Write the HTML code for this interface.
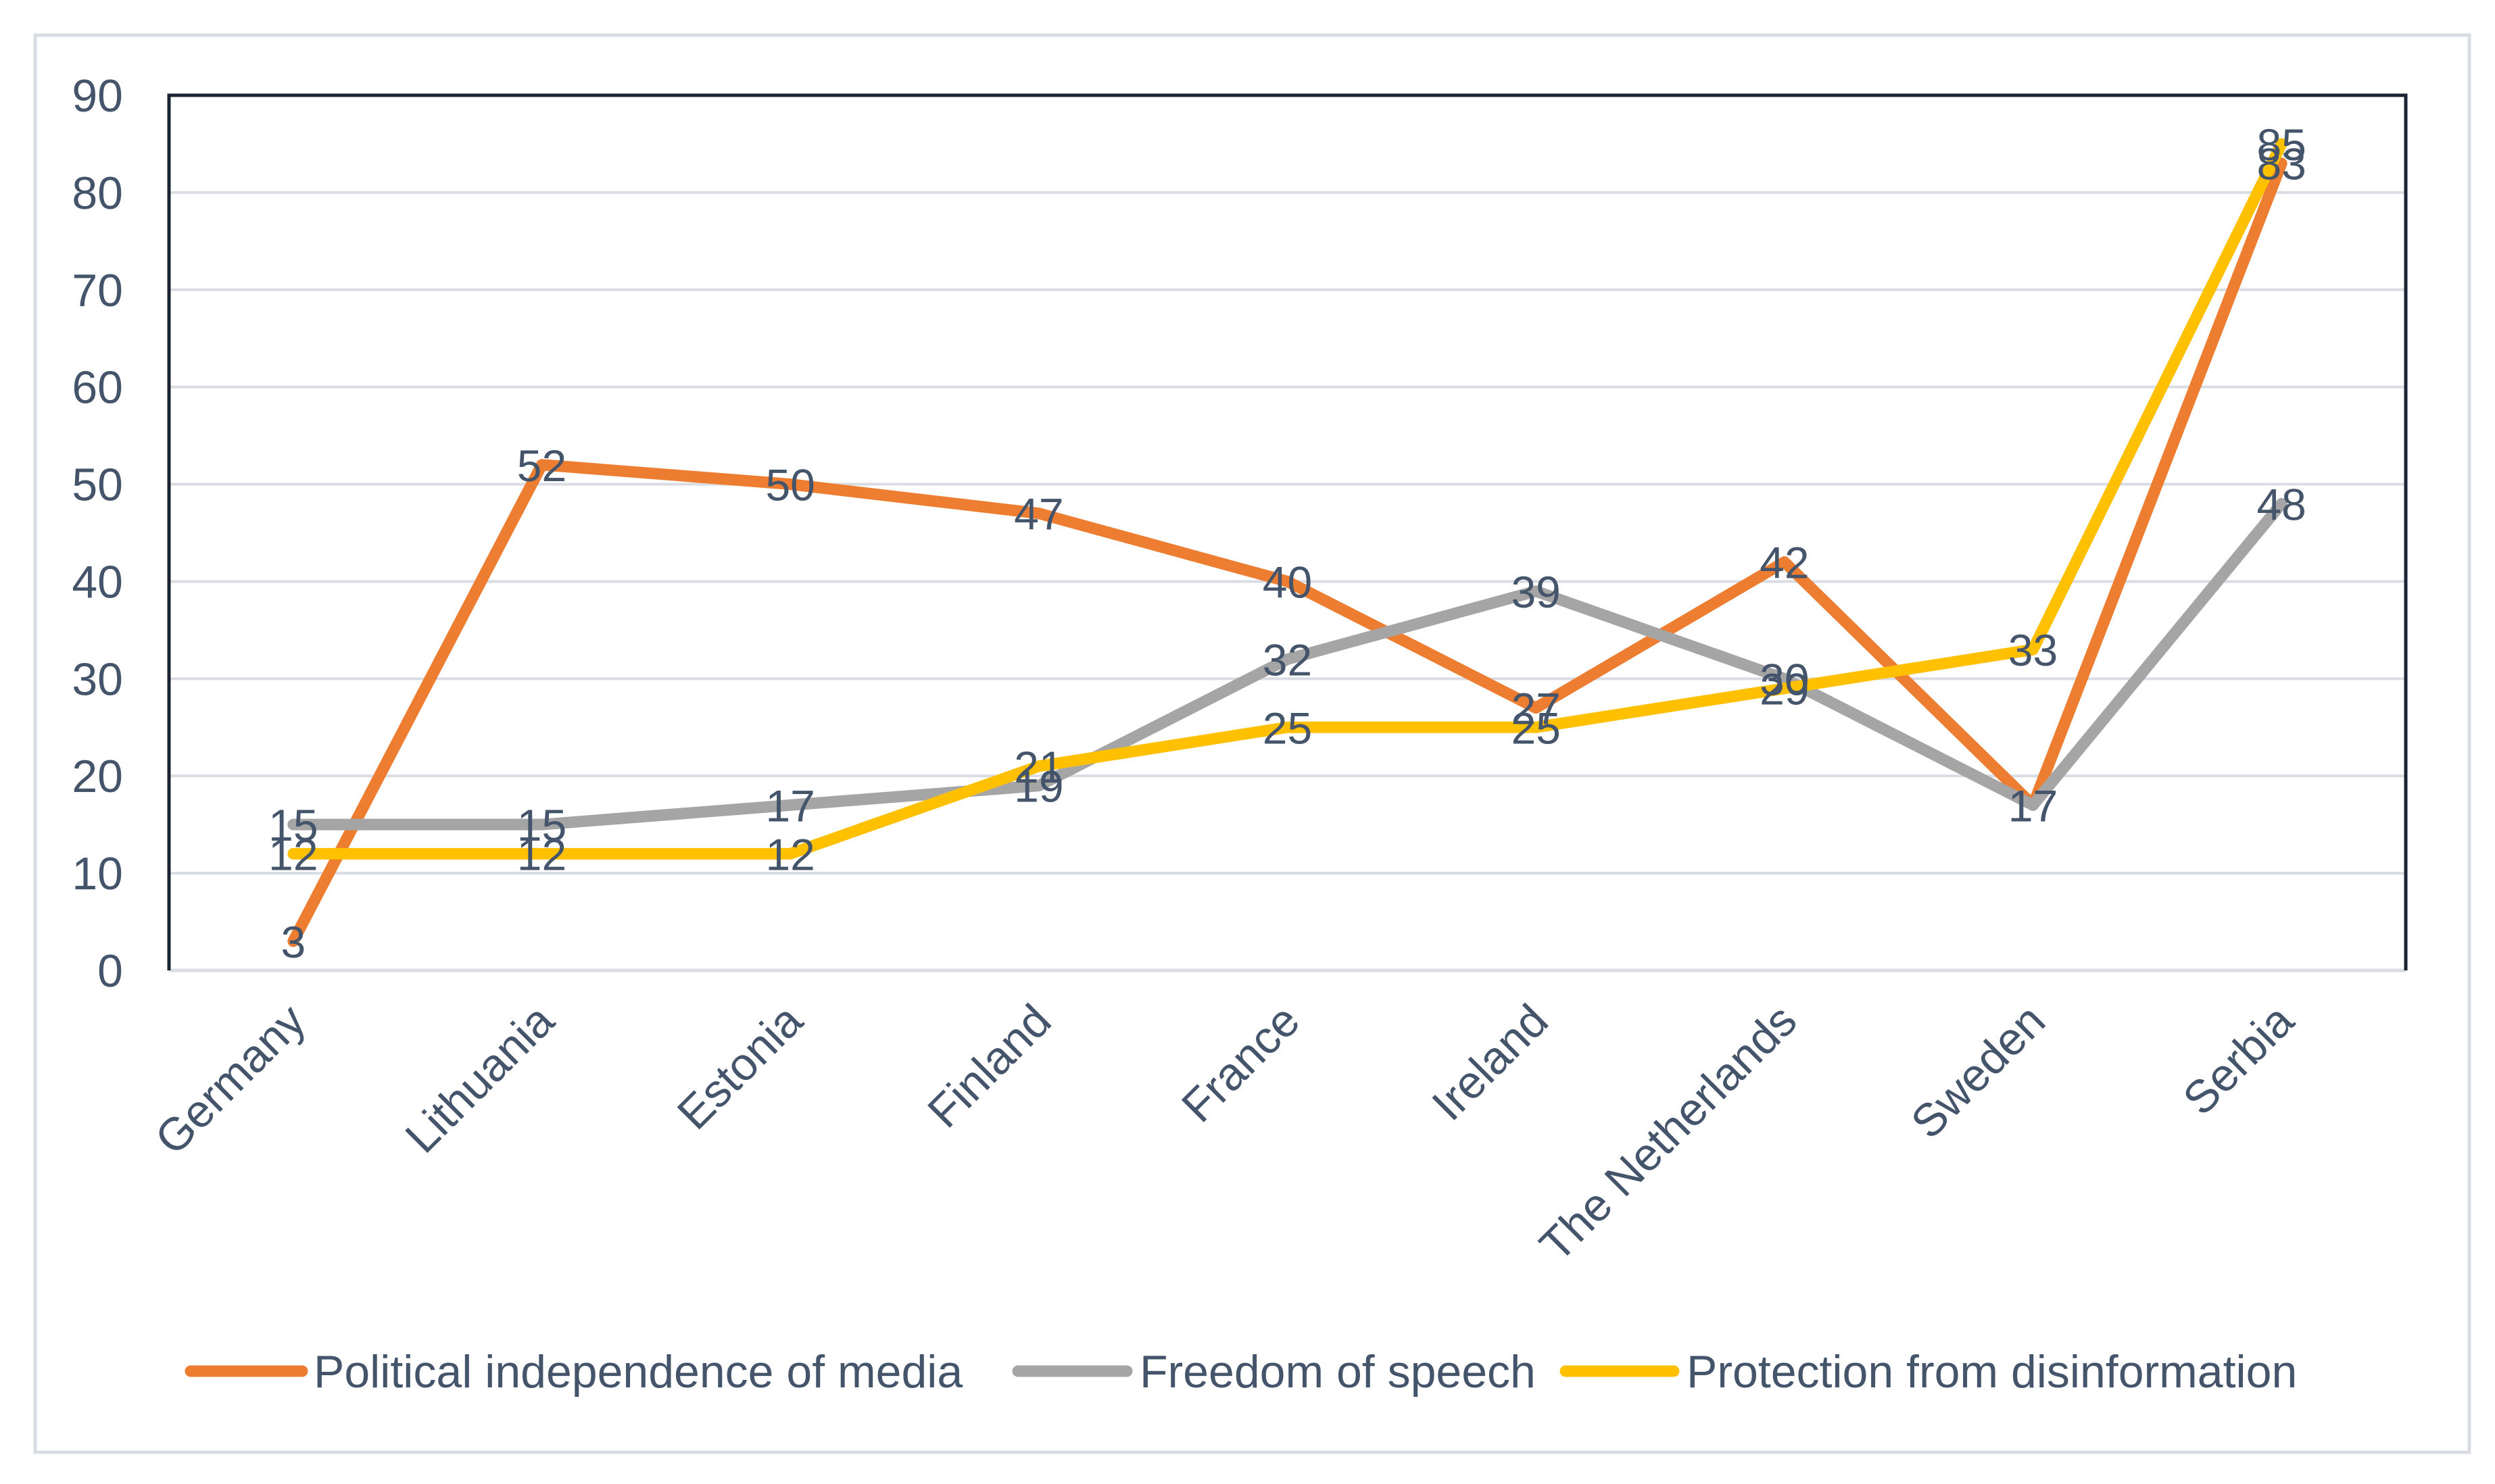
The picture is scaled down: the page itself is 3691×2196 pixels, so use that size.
<!DOCTYPE html>
<html><head><meta charset="utf-8"><style>
html,body{margin:0;padding:0;background:#fff;}
svg{display:block;}
text{font-family:"Liberation Sans",sans-serif;fill:#44546A;}
</style></head><body>
<svg id="chart" width="3691" height="2196" viewBox="0 0 3691 2196">
<rect x="52" y="52" width="3601" height="2097" fill="#fff" stroke="#D9DDE3" stroke-width="5"/>
<g id="grid"></g>
<g id="lines"></g>
<g id="labels"></g>
<g id="xlabels"></g>
<g id="legend"></g>
</svg>
<script>
const categories=["Germany","Lithuania","Estonia","Finland","France","Ireland","The Netherlands","Sweden","Serbia"];
const politicalValues=[3,52,50,47,40,27,42,17,83];
const speechValues=[15,15,17,19,32,39,30,17,48];
const disinfoValues=[12,12,12,21,25,25,29,33,85];
const yTicks=[0,10,20,30,40,50,60,70,80,90];
const seriesNames=["Political independence of media","Freedom of speech","Protection from disinformation"];

const NS="http://www.w3.org/2000/svg";
const L=250,R=3559,T=141,B=1436,yMax=90;
function xPos(i){return L+(R-L)/categories.length*(i+0.5);}
function yPos(v){return B-(B-T)*v/yMax;}
function mk(tag,attrs,parent){const e=document.createElementNS(NS,tag);for(const k in attrs)e.setAttribute(k,attrs[k]);parent.appendChild(e);return e;}

const grid=document.getElementById('grid');
yTicks.forEach(t=>{
  const y=yPos(t);
  if(t>0&&t<yMax){const g=mk('line',{x1:L,x2:R,y1:y,y2:y,stroke:'#D9DDE3','stroke-width':4},grid);
  
  }
  const tx=mk('text',{x:182,y:y+24,'text-anchor':'end','font-size':68},grid);
  tx.textContent=t;
  
  
});
const base=mk('line',{x1:L,x2:R,y1:B,y2:B,stroke:'#D9DDE3',"stroke-width":5},grid);


const box=mk('path',{d:`M${L},${B} L${L},${T} L${R},${T} L${R},${B}`,fill:'none',stroke:'#1B2433','stroke-width':5},grid);



const series=[[politicalValues,'#ED7D31','political-independence'],[speechValues,'#A5A5A5','freedom-of-speech'],[disinfoValues,'#FFC000','protection-from-disinformation']];
const lines=document.getElementById('lines'),labels=document.getElementById('labels');
series.forEach(([vals,col,nm])=>{
  const d=vals.map((v,i)=>(i?'L':'M')+xPos(i)+','+yPos(v)).join(' ');
  const p=mk('path',{d:d,fill:'none',stroke:col,'stroke-width':17,'stroke-linejoin':'round','stroke-linecap':'round'},lines);
  
  
});
series.forEach(([vals,col,nm])=>{
  vals.forEach((v,i)=>{
    const t=mk('text',{x:xPos(i),y:yPos(v)+24,'text-anchor':'middle','font-size':66},labels);
    t.textContent=v;
    
    
  });
});
const xl=document.getElementById('xlabels');
categories.forEach((c,i)=>{
  const x=xPos(i)+22,y=1515;
  const t=mk('text',{x:x,y:y,'text-anchor':'end','font-size':68,transform:`rotate(-45 ${x} ${y})`},xl);
  t.textContent=c;
  
  
});
const lg=document.getElementById('legend');
const lx=[[282,447,464],[1506,1667,1686],[2316,2476,2495]];
series.forEach(([v,col,nm],k)=>{
  const ln=mk('line',{x1:lx[k][0],x2:lx[k][1],y1:2029,y2:2029,stroke:col,'stroke-width':17,'stroke-linecap':'round'},lg);
  
  
  const t=mk('text',{x:lx[k][2],y:2053,'font-size':68},lg);
  t.textContent=seriesNames[k];
  
  
});
</script>
</body></html>
